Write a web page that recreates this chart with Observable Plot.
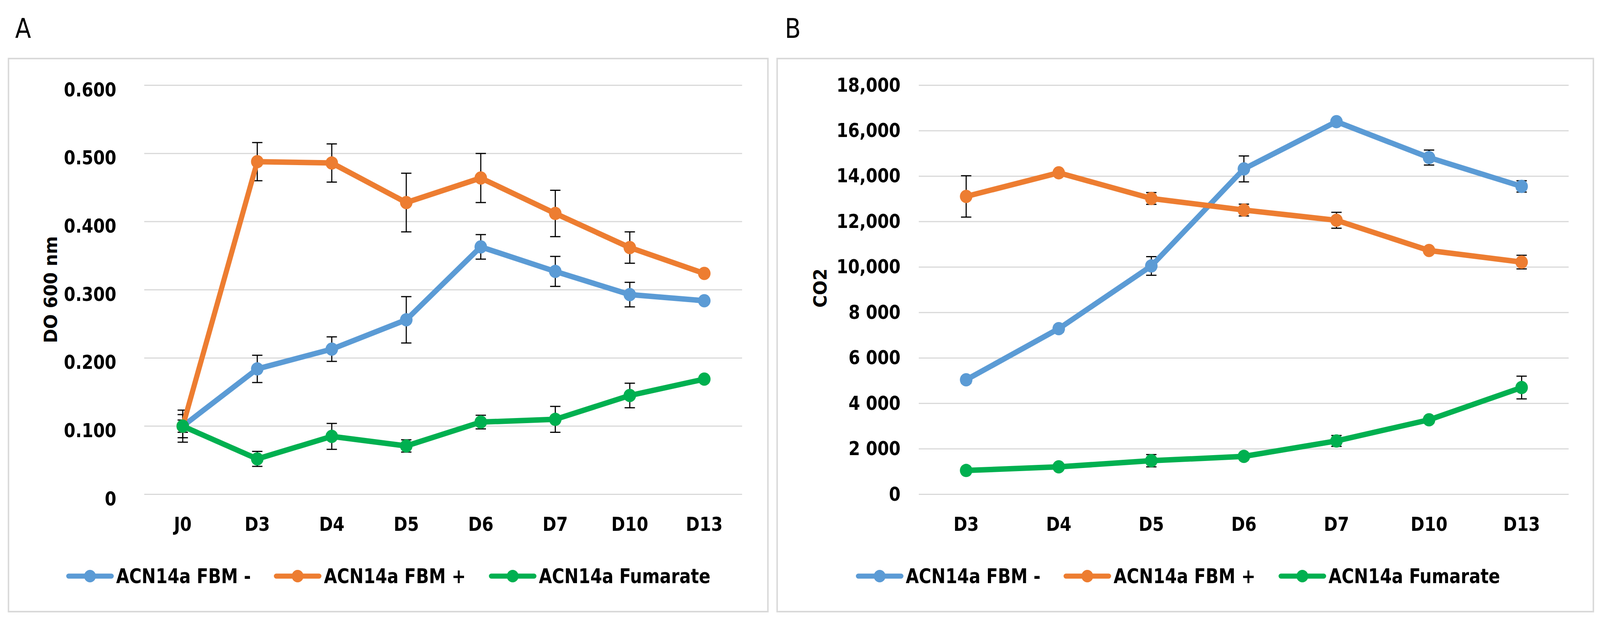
<!DOCTYPE html>
<html>
<head>
<meta charset="utf-8">
<script src="https://cdn.jsdelivr.net/npm/d3@7"></script>
<script src="https://cdn.jsdelivr.net/npm/@observablehq/plot@0.6"></script>
<style>
html,body{margin:0;padding:0;background:#fff;overflow:hidden;}
#page{position:absolute;left:0;top:0;width:4338px;height:1591px;overflow:hidden;background:#fff;
  transform-origin:0 0;
  font-family:"DejaVu Sans Condensed","DejaVu Sans",sans-serif;font-stretch:condensed;color:#000;}
.frame{position:absolute;border:4px solid #d9d9d9;box-sizing:border-box;}
.plabel{position:absolute;font-size:70px;font-weight:normal;line-height:1;}
.ytitle{position:absolute;font-size:49px;font-weight:bold;line-height:1;white-space:nowrap;
  transform:translate(-50%,-50%) rotate(-90deg);}
.legend{position:absolute;display:flex;align-items:center;justify-content:center;
  font-size:51px;font-weight:bold;white-space:nowrap;line-height:1;}
.item{display:flex;align-items:center;margin:0 31px;}
.item svg{margin-right:6px;}
.plot{position:absolute;top:0;}
</style>
</head>
<body>
<div id="page"></div>
<script>
// ---------- data ----------
const seriesNames = ["ACN14a FBM -", "ACN14a FBM +", "ACN14a Fumarate"];
const seriesColors = ["#5B9BD5", "#ED7D31", "#00B050"];

// Panel A : DO 600 nm
const catsA = ["J0", "D3", "D4", "D5", "D6", "D7", "D10", "D13"];
const A_fbmMinus     = [0.100, 0.184, 0.213, 0.256, 0.363, 0.327, 0.293, 0.284];
const A_fbmMinusErr  = [0.0235, 0.020, 0.018, 0.034, 0.018, 0.022, 0.018, 0.003];
const A_fbmPlus      = [0.100, 0.488, 0.486, 0.428, 0.464, 0.412, 0.362, 0.324];
const A_fbmPlusErr   = [0.009, 0.028, 0.028, 0.043, 0.036, 0.034, 0.023, 0.003];
const A_fumarate     = [0.100, 0.052, 0.085, 0.071, 0.106, 0.110, 0.145, 0.169];
const A_fumarateErr  = [0.017, 0.011, 0.019, 0.009, 0.010, 0.019, 0.018, 0.003];
const yTicksA  = [0, 0.1, 0.2, 0.3, 0.4, 0.5, 0.6];
const yLabelsA = ["0", "0.100", "0.200", "0.300", "0.400", "0.500", "0.600"];

// Panel B : CO2
const catsB = ["D3", "D4", "D5", "D6", "D7", "D10", "D13"];
const B_fbmMinus     = [5040, 7290, 10050, 14320, 16400, 14820, 13550];
const B_fbmMinusErr  = [150, 150, 410, 570, 100, 330, 250];
const B_fbmPlus      = [13110, 14150, 13020, 12510, 12060, 10730, 10220];
const B_fbmPlusErr   = [910, 100, 260, 260, 350, 120, 300];
const B_fumarate     = [1050, 1210, 1480, 1670, 2350, 3280, 4700];
const B_fumarateErr  = [100, 100, 270, 120, 240, 150, 500];
const yTicksB  = [0, 2000, 4000, 6000, 8000, 10000, 12000, 14000, 16000, 18000];
const yLabelsB = ["0", "2 000", "4 000", "6 000", "8 000", "10,000", "12,000", "14,000", "16,000", "18,000"];

// ---------- helpers ----------
const FONT = '"DejaVu Sans Condensed","DejaVu Sans",sans-serif';
const capSymbol = {
  draw(ctx, size) {
    const r = Math.sqrt(size / Math.PI);
    ctx.moveTo(-r, 0);
    ctx.lineTo(r, 0);
  }
};

function buildRows(cats, valuesList, errList) {
  const rows = [];
  valuesList.forEach((vals, s) => {
    vals.forEach((v, i) => rows.push({series: seriesNames[s], cat: cats[i], v, e: errList[s][i]}));
  });
  return rows;
}

function makeChart(cfg) {
  const rows = buildRows(cfg.cats, cfg.values, cfg.errs);
  const lab = d => cfg.yLabels[cfg.yTicks.findIndex(t => Math.abs(t - d) < 1e-9)];
  const marks = [
    Plot.gridY(cfg.yTicks, {stroke: "#d9d9d9", strokeOpacity: 1, strokeWidth: 3}),
    Plot.axisY(cfg.yTicks, {tickSize: 0, tickPadding: cfg.tickPadY, tickFormat: lab,
      fontSize: 50, fontWeight: "bold", dy: cfg.dyY, label: null}),
    Plot.axisX({tickSize: 0, tickPadding: 58, fontSize: 50, fontWeight: "bold", label: null}),
    Plot.ruleX(rows, {x: "cat", y1: d => d.v - d.e, y2: d => d.v + d.e, stroke: "#000", strokeWidth: 3}),
    Plot.dot(rows, {x: "cat", y: d => d.v + d.e, symbol: capSymbol, r: 14, stroke: "#000", strokeWidth: 3, fill: "none"}),
    Plot.dot(rows, {x: "cat", y: d => d.v - d.e, symbol: capSymbol, r: 14, stroke: "#000", strokeWidth: 3, fill: "none"})
  ];
  seriesNames.forEach((name, s) => {
    const d = rows.filter(r => r.series === name);
    marks.push(Plot.line(d, {x: "cat", y: "v", stroke: seriesColors[s], strokeWidth: 14,
      strokeLinejoin: "round", strokeLinecap: "round"}));
    marks.push(Plot.dot(d, {x: "cat", y: "v", r: 17, fill: seriesColors[s], stroke: "none"}));
  });
  const svg = Plot.plot({
    width: 2169, height: 1420,
    marginLeft: cfg.marginLeft, marginRight: cfg.marginRight, marginTop: 218, marginBottom: 154,
    x: {type: "point", domain: cfg.cats, padding: 0.5, label: null},
    y: {domain: cfg.yDomain, label: null},
    style: {fontFamily: FONT, background: "transparent", color: "#000", overflow: "visible"},
    marks
  });
  svg.classList.add("plot");
  svg.style.left = cfg.left + "px";
  return svg;
}

function legend(left, width) {
  const div = document.createElement("div");
  div.className = "legend";
  div.style.left = left + "px";
  div.style.width = width + "px";
  div.style.top = "1446px";
  div.style.height = "60px";
  seriesNames.forEach((name, s) => {
    const it = document.createElement("div");
    it.className = "item";
    it.innerHTML = `<svg width="130" height="40" viewBox="0 0 130 40">
      <line x1="7" y1="20" x2="123" y2="20" stroke="${seriesColors[s]}" stroke-width="13" stroke-linecap="round"/>
      <circle cx="65" cy="20" r="16" fill="${seriesColors[s]}"/></svg><span>${name}</span>`;
    div.appendChild(it);
  });
  return div;
}

function el(cls, text, styles) {
  const d = document.createElement("div");
  d.className = cls;
  if (text) d.textContent = text;
  Object.assign(d.style, styles);
  return d;
}

// ---------- assemble ----------
const page = document.getElementById("page");
page.appendChild(el("frame", "", {left: "21px", top: "148px", width: "2063px", height: "1421px"}));
page.appendChild(el("frame", "", {left: "2105px", top: "148px", width: "2217px", height: "1421px"}));
page.appendChild(el("plabel", "A", {left: "41px", top: "38px"}));
page.appendChild(el("plabel", "B", {left: "2128px", top: "38px"}));

page.appendChild(makeChart({
  left: 0, cats: catsA, values: [A_fbmMinus, A_fbmPlus, A_fumarate],
  errs: [A_fbmMinusErr, A_fbmPlusErr, A_fumarateErr],
  yDomain: [0, 0.6], yTicks: yTicksA, yLabels: yLabelsA,
  marginLeft: 391, marginRight: 157, tickPadY: 76, dyY: 12
}));
page.appendChild(makeChart({
  left: 2169, cats: catsB, values: [B_fbmMinus, B_fbmPlus, B_fumarate],
  errs: [B_fbmMinusErr, B_fbmPlusErr, B_fumarateErr],
  yDomain: [0, 18000], yTicks: yTicksB, yLabels: yLabelsB,
  marginLeft: 322, marginRight: 85, tickPadY: 50, dyY: 0
}));

page.appendChild(el("ytitle", "DO 600 nm", {left: "138px", top: "742px"}));
page.appendChild(el("ytitle", "CO2", {left: "2224px", top: "738px"}));
page.appendChild(legend(21, 2063));
page.appendChild(legend(2085, 2217));

// map the 4338x1591 design onto the actual viewport
function fit() {
  const vw = document.documentElement.clientWidth || window.innerWidth;
  const vh = document.documentElement.clientHeight || window.innerHeight;
  const sx = vw / 4338, sy = vh / 1591;
  page.style.transform = (Math.abs(sx - 1) < 0.001 && Math.abs(sy - 1) < 0.001) ? "none" : `scale(${sx}, ${sy})`;
}
fit();
window.addEventListener("resize", fit);
</script>
</body>
</html>
